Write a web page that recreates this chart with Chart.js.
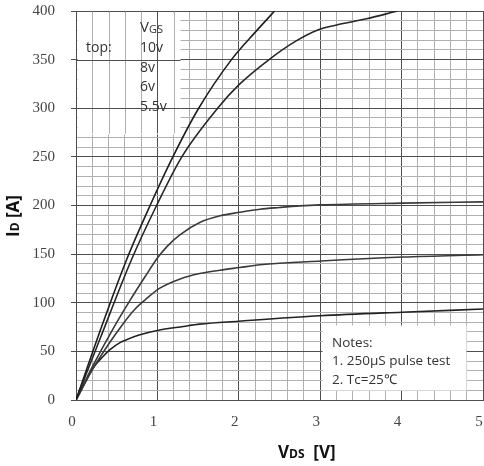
<!DOCTYPE html>
<html>
<head>
<meta charset="utf-8">
<script src="https://cdn.jsdelivr.net/npm/chart.js@4.4.0/dist/chart.umd.min.js"></script>
<style>
  html, body { margin: 0; padding: 0; background: #fff; }
  #wrap { width: 484px; height: 466px; }
</style>
</head>
<body>
<div id="wrap"><canvas id="ivChart" width="484" height="466"></canvas></div>
<script>
// ---------------- DATA ----------------
const vgsLabels = ["10v", "8v", "6v", "5.5v"];
const noteLines = ["Notes:", "1. 250\u03bcS pulse test", "2. Tc=25\u2103"];

const vdsA = [0, 0.3, 0.62, 0.91, 1.19, 1.5, 1.91, 2.2, 2.44];
const idA  = [0, 72, 144, 200, 250, 299, 350, 378, 400];

const vdsB = [0, 0.3, 0.68, 0.99, 1.3, 1.75, 2.0, 2.38, 2.7, 2.97, 3.2, 3.57, 3.95];
const idB  = [0, 64, 144, 200, 250, 301, 324, 350.6, 369, 380.5, 385.6, 392, 400];

const vdsC = [0, 0.2, 0.46, 0.66, 0.85, 1.0, 1.12, 1.28, 1.52, 1.77, 2.01, 2.26, 2.5, 2.75, 3.0, 4.0, 5.0];
const idC  = [0, 34, 74, 102, 127, 146, 158, 170, 182.5, 189.4, 193, 196.2, 198, 199.6, 200.6, 202.4, 203.7];

const vdsD = [0, 0.2, 0.41, 0.575, 0.72, 0.85, 1.03, 1.28, 1.52, 1.77, 2.01, 2.26, 3.01, 4.02, 5.0];
const idD  = [0, 31, 58.6, 78, 93, 103, 115, 124.5, 130, 133.5, 136.2, 139, 143, 147, 149.3];

const vdsE = [0, 0.1, 0.21, 0.335, 0.417, 0.54, 0.62, 0.785, 1.0, 1.32, 1.52, 2.0, 3.0, 4.0, 5.0];
const idE  = [0, 16, 33, 45, 51.7, 59, 62, 67, 71.5, 75.6, 78, 81, 86.6, 90.3, 93.5];

// ---------------- HELPERS ----------------
function toPoints(xs, ys) {
    return xs.map((v, i) => ({ x: v, y: ys[i] }));
}

function isMultiple(v, step) {
    const r = v / step;
    return Math.abs(r - Math.round(r)) < 1e-6;
}

function curve(xs, ys, color) {
    return {
        data: toPoints(xs, ys),
        borderColor: color,
        borderWidth: 1.6,
        pointRadius: 0,
        fill: false,
        cubicInterpolationMode: "monotone"
    };
}

const MAJOR = "#4e4e4e";
const MINOR = "#b0b0b0";

// ---------------- PAPER BOXES + TEXT ----------------
const paperBoxes = {
    id: "paperBoxes",
    beforeDatasetsDraw(chart) {
        const { ctx, scales: { x, y } } = chart;
        const px = v => Math.round(x.getPixelForValue(v)) + 0.5;
        const py = v => Math.round(y.getPixelForValue(v)) + 0.5;

        ctx.save();
        ctx.fillStyle = "#fff";

        // legend box (hides the minor horizontal lines only)
        const lx0 = px(0), lx1 = px(1.28), ly0 = py(400), ly1 = py(275);
        ctx.fillRect(lx0 + 1, ly0 + 1, lx1 - lx0 - 1, ly1 - ly0);
        ctx.lineWidth = 1;
        x.ticks.forEach(t => {
            const p = px(t.value);
            if (p <= lx0 || p >= lx1) return;
            ctx.strokeStyle = isMultiple(t.value, 1) ? MAJOR : MINOR;
            ctx.beginPath();
            ctx.moveTo(p, ly0);
            ctx.lineTo(p, ly1);
            ctx.stroke();
        });
        y.ticks.forEach(t => {
            if (!isMultiple(t.value, 50)) return;
            const p = py(t.value);
            if (p <= ly0 || p >= ly1) return;
            ctx.strokeStyle = MAJOR;
            ctx.beginPath();
            ctx.moveTo(lx0, p);
            ctx.lineTo(lx1, p);
            ctx.stroke();
        });

        // notes box
        const nx0 = px(3.02), nx1 = px(4.79), ny0 = py(77), ny1 = py(10);
        ctx.fillRect(nx0, ny0, nx1 - nx0, ny1 - ny0);
        ctx.restore();
    },
    afterDraw(chart) {
        const { ctx } = chart;
        ctx.save();
        ctx.fillStyle = "#333";
        ctx.textBaseline = "middle";
        ctx.textAlign = "left";

        // legend text
        ctx.font = "15px 'Open Sans'";
        ctx.fillText("V", 140, 28);
        let w = ctx.measureText("V").width;
        ctx.font = "11px 'Open Sans'";
        ctx.fillText("GS", 140 + w, 30);
        ctx.font = "14px 'Open Sans'";
        ctx.fillText("top:", 86, 48);
        vgsLabels.forEach((lab, i) => ctx.fillText(lab, 140, 48 + i * 19.7));

        // notes text
        ctx.font = "13.5px 'Open Sans'";
        noteLines.forEach((line, i) => ctx.fillText(line, 332, 343 + i * 18.5));

        // axis titles
        ctx.fillStyle = "#111";
        ctx.textBaseline = "alphabetic";
        ctx.font = "bold 17px 'Open Sans'";
        let xPos = 278;
        ctx.fillText("V", xPos, 458);
        xPos += ctx.measureText("V").width;
        ctx.font = "bold 12px 'Open Sans'";
        ctx.fillText("DS", xPos, 458);
        xPos += ctx.measureText("DS").width;
        ctx.font = "bold 17px 'Open Sans'";
        ctx.fillText("  [V]", xPos, 458);

        ctx.translate(19, 237);
        ctx.rotate(-Math.PI / 2);
        ctx.font = "bold 17px 'Open Sans'";
        let yPos = 0;
        ctx.fillText("I", yPos, 0);
        yPos += ctx.measureText("I").width;
        ctx.font = "bold 12px 'Open Sans'";
        ctx.fillText("D", yPos, 0);
        yPos += ctx.measureText("D").width;
        ctx.font = "bold 17px 'Open Sans'";
        ctx.fillText(" [A]", yPos, 0);
        ctx.restore();
    }
};

// ---------------- CHART ----------------
new Chart(document.getElementById("ivChart"), {
    type: "line",
    data: {
        datasets: [
            curve(vdsA, idA, "#1e1e1e"),
            curve(vdsB, idB, "#262626"),
            curve(vdsC, idC, "#3a3a3a"),
            curve(vdsD, idD, "#3a3a3a"),
            curve(vdsE, idE, "#222")
        ]
    },
    options: {
        responsive: false,
        devicePixelRatio: 1,
        animation: false,
        layout: { padding: { top: 11, right: 1, left: 0, bottom: 0 } },
        plugins: {
            legend: { display: false },
            tooltip: { enabled: false }
        },
        scales: {
            x: {
                type: "linear",
                min: 0,
                max: 5,
                afterFit: s => {
                    s.height = 66;
                    s.paddingLeft = 0;
                    s.paddingRight = 0;
                },
                border: { color: MAJOR },
                grid: {
                    drawTicks: false,
                    color: c => isMultiple(c.tick.value, 1) ? MAJOR : MINOR
                },
                ticks: {
                    stepSize: 0.2,
                    autoSkip: false,
                    maxRotation: 0,
                    padding: 13,
                    labelOffset: -4,
                    color: "#444",
                    font: { family: "'Liberation Serif'", size: 15 },
                    callback: v => isMultiple(v, 1) ? String(Math.round(v)) : ""
                }
            },
            y: {
                min: 0,
                max: 400,
                afterFit: s => {
                    s.width = 76;
                    s.paddingTop = 0;
                    s.paddingBottom = 0;
                },
                border: { color: MAJOR },
                grid: {
                    tickLength: 5,
                    color: c => isMultiple(c.tick.value, 50) ? MAJOR : MINOR,
                    tickColor: c => isMultiple(c.tick.value, 50) ? MAJOR : "rgba(0,0,0,0)"
                },
                ticks: {
                    stepSize: 10,
                    autoSkip: false,
                    padding: 16,
                    color: "#444",
                    font: { family: "'Liberation Serif'", size: 15 },
                    callback: v => isMultiple(v, 50) ? String(v) : ""
                }
            }
        }
    },
    plugins: [paperBoxes]
});
</script>
</body>
</html>
